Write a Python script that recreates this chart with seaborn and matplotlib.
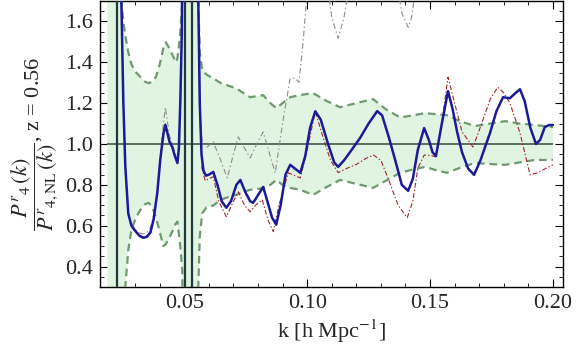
import numpy as np
import pandas as pd
import matplotlib
matplotlib.use("Agg")
import matplotlib.pyplot as plt
import seaborn as sns
from matplotlib.ticker import MultipleLocator, FormatStrFormatter

# error band (upper / lower dashed curves), values above/below the frame mark the poles
band_k = [0.0187, 0.0238, 0.0244, 0.0252, 0.0260, 0.0272, 0.0285, 0.0300, 0.0320, 0.0340,
          0.0355, 0.0370, 0.0385, 0.0400, 0.0415, 0.0425, 0.0443, 0.0465, 0.0472, 0.0482,
          0.0492, 0.0497, 0.0552, 0.0557, 0.0563, 0.0573, 0.0590, 0.0620, 0.0646, 0.0680,
          0.0711, 0.0740, 0.0768, 0.0800, 0.0821, 0.0850, 0.0874, 0.0900, 0.0931, 0.0972,
          0.1024, 0.1080, 0.1134, 0.1200, 0.1268, 0.1320, 0.1378, 0.1430, 0.1480, 0.1530,
          0.1569, 0.1625, 0.1683, 0.1745, 0.1805, 0.1865, 0.1927, 0.2000]
band_upper = [2.5, 2.5, 1.70, 1.60, 1.53, 1.45, 1.39, 1.355, 1.33, 1.305,
              1.298, 1.305, 1.33, 1.39, 1.47, 1.498, 1.46, 1.40, 1.42, 1.52,
              1.70, 2.5, 2.5, 1.70, 1.45, 1.36, 1.34, 1.32, 1.30, 1.285,
              1.273, 1.25, 1.229, 1.235, 1.239, 1.20, 1.176, 1.20, 1.229, 1.24,
              1.249, 1.21, 1.180, 1.20, 1.220, 1.17, 1.13, 1.14, 1.151, 1.145,
              1.141, 1.11, 1.088, 1.10, 1.112, 1.10, 1.093, 1.083]
band_lower = [-0.5, -0.5, 0.10, 0.20, 0.30, 0.48, 0.58, 0.63, 0.675, 0.705,
              0.712, 0.69, 0.64, 0.57, 0.50, 0.51, 0.55, 0.61, 0.62, 0.52,
              0.38, -0.5, -0.5, 0.30, 0.55, 0.66, 0.69, 0.70, 0.727, 0.74,
              0.751, 0.765, 0.776, 0.78, 0.785, 0.80, 0.824, 0.80, 0.785, 0.776,
              0.751, 0.79, 0.824, 0.805, 0.785, 0.82, 0.859, 0.875, 0.888, 0.870,
              0.859, 0.885, 0.907, 0.902, 0.898, 0.91, 0.922, 0.922]

# left branch shared k grid (between the first two poles)
left_k = [0.0240, 0.0244, 0.0252, 0.0260, 0.0272, 0.0285, 0.0300, 0.0318, 0.0333, 0.0347,
          0.0362, 0.0375, 0.0390, 0.0402, 0.0415, 0.0423, 0.0430, 0.0440, 0.0451, 0.0462,
          0.0472, 0.0478, 0.0484, 0.0490, 0.0494]
blue_left = [2.2, 1.70, 1.20, 0.89, 0.66, 0.60, 0.575, 0.55, 0.541, 0.545,
             0.566, 0.63, 0.76, 0.92, 1.05, 1.093, 1.06, 1.01, 0.985, 0.94,
             0.907, 0.98, 1.215, 1.55, 2.2]
red_left = [2.2, 1.70, 1.20, 0.89, 0.66, 0.60, 0.58, 0.555, 0.545, 0.55,
            0.57, 0.63, 0.76, 0.92, 1.06, 1.10, 1.07, 1.01, 0.985, 0.94,
            0.907, 0.98, 1.215, 1.55, 2.2]
gray_left = [2.2, 1.70, 1.20, 0.90, 0.66, 0.61, 0.58, 0.565, 0.56, 0.565,
             0.59, 0.65, 0.77, 0.93, 1.10, 1.18, 1.12, 1.04, 1.00, 0.96,
             0.92, 1.00, 1.23, 1.55, 2.2]

# right branches (after the poles near k = 0.05)
blue_k = [0.0550, 0.0557, 0.0563, 0.0570, 0.0578, 0.0588, 0.0600, 0.0618, 0.0635, 0.0652,
          0.0671, 0.0690, 0.0712, 0.0728, 0.0750, 0.0768, 0.0780, 0.0800, 0.0821, 0.0838,
          0.0857, 0.0874, 0.0892, 0.0912, 0.0931, 0.0950, 0.0972, 0.0992, 0.1012, 0.1033,
          0.1055, 0.1085, 0.1110, 0.1126, 0.1150, 0.1175, 0.1215, 0.1250, 0.1285, 0.1305,
          0.1333, 0.1358, 0.1385, 0.1411, 0.1430, 0.1450, 0.1476, 0.1495, 0.1510, 0.1524,
          0.1548, 0.1573, 0.1592, 0.1610, 0.1630, 0.1655, 0.1679, 0.1705, 0.1744, 0.1770,
          0.1797, 0.1825, 0.1848, 0.1866, 0.1885, 0.1908, 0.1931, 0.1948, 0.1967, 0.1985,
          0.2000]
blue_right = [2.2, 1.70, 1.20, 0.95, 0.87, 0.845, 0.85, 0.863, 0.80, 0.72,
              0.688, 0.72, 0.80, 0.824, 0.76, 0.72, 0.712, 0.75, 0.790, 0.72,
              0.64, 0.605, 0.70, 0.85, 0.898, 0.88, 0.859, 0.94, 1.08, 1.16,
              1.12, 1.00, 0.91, 0.888, 0.92, 0.961, 1.029, 1.10, 1.161, 1.14,
              1.03, 0.922, 0.80, 0.771, 0.83, 0.97, 1.078, 1.02, 0.96, 0.941,
              1.10, 1.259, 1.17, 1.06, 0.96, 0.88, 0.849, 0.92, 1.054, 1.16,
              1.229, 1.224, 1.25, 1.268, 1.21, 1.08, 1.00, 1.02, 1.083, 1.093,
              1.093]

red_k = [0.0550, 0.0557, 0.0563, 0.0572, 0.0585, 0.0600, 0.0618, 0.0640, 0.0671, 0.0700,
         0.0720, 0.0745, 0.0768, 0.0790, 0.0817, 0.0840, 0.0862, 0.0885, 0.0923, 0.0950,
         0.0972, 0.1000, 0.1033, 0.1060, 0.1095, 0.1126, 0.1160, 0.1200, 0.1240, 0.1270,
         0.1300, 0.1330, 0.1370, 0.1407, 0.1430, 0.1450, 0.1476, 0.1500, 0.1524, 0.1550,
         0.1573, 0.1600, 0.1630, 0.1675, 0.1710, 0.1745, 0.1776, 0.1800, 0.1825, 0.1866,
         0.1907, 0.1940, 0.1970, 0.2000]
red_right = [2.2, 1.70, 1.15, 0.88, 0.82, 0.83, 0.84, 0.72, 0.644, 0.72,
             0.766, 0.70, 0.668, 0.70, 0.727, 0.63, 0.571, 0.70, 0.859, 0.845,
             0.834, 0.97, 1.161, 1.05, 0.92, 0.86, 0.88, 0.90, 0.93, 0.946,
             0.92, 0.83, 0.70, 0.639, 0.72, 0.88, 0.946, 0.945, 0.937, 1.12,
             1.327, 1.20, 1.06, 0.985, 1.10, 1.22, 1.278, 1.25, 1.20, 1.054,
             0.849, 0.86, 0.88, 0.898]

gray_k = [0.0550, 0.0557, 0.0565, 0.0573, 0.0593, 0.0618, 0.0645, 0.0675, 0.0700, 0.0720,
          0.0745, 0.0768, 0.0795, 0.0821, 0.0845, 0.0870, 0.0902, 0.0931, 0.0951, 0.0967,
          0.0984, 0.1000, 0.1040, 0.1075, 0.1100, 0.1126, 0.1150, 0.1175, 0.1250, 0.1340,
          0.1370, 0.1386, 0.1411, 0.1425, 0.1440, 0.1500, 0.1700, 0.2000]
gray_right = [2.2, 1.70, 1.15, 1.005, 0.985, 1.01, 0.93, 0.834, 0.95, 1.034,
              0.98, 0.932, 1.00, 1.059, 0.96, 0.859, 1.117, 1.322, 1.322, 1.302,
              1.507, 1.75, 2.2, 1.85, 1.62, 1.517, 1.62, 1.80, 2.3, 1.95,
              1.75, 1.639, 1.571, 1.62, 1.75, 2.3, 2.4, 2.2]

pole_k = [0.0228, 0.0504, 0.0533]

sns.set_style("ticks")
plt.rcParams["font.family"] = "serif"
plt.rcParams["font.serif"] = ["Liberation Serif", "DejaVu Serif"]
plt.rcParams["mathtext.fontset"] = "stix"
plt.rcParams["lines.scale_dashes"] = False

fig = plt.figure(figsize=(5.76, 3.5), dpi=100)
ax = fig.add_axes([100 / 576, 1 - 287 / 350, 463 / 576, 286 / 350])


def curve_frame(k_parts, v_parts):
    rows = []
    for i, (ks, vs) in enumerate(zip(k_parts, v_parts)):
        for kk, vv in zip(ks, vs):
            rows.append({"k": kk, "ratio": vv, "branch": i})
    return pd.DataFrame(rows)


ax.fill_between(band_k, band_lower, band_upper, color="#e1f3e1", linewidth=0)
ax.hlines(1.0, band_k[0], band_k[-1], color="#4f6455", linewidth=1.3, zorder=2)

band = pd.DataFrame({"k": band_k, "upper": band_upper, "lower": band_lower})
for col in ["upper", "lower"]:
    sns.lineplot(data=band, x="k", y=col, ax=ax, color="#6f9a6f", linewidth=1.6,
                 linestyle=(0, (5.5, 3.5)), sort=False, estimator=None, zorder=3)

gray = curve_frame([left_k, gray_k], [gray_left, gray_right])
sns.lineplot(data=gray, x="k", y="ratio", units="branch", estimator=None, sort=False,
             ax=ax, color="#8c8c8c", linewidth=0.8, linestyle=(0, (4, 2, 1, 2)), zorder=4)

red = curve_frame([left_k, red_k], [red_left, red_right])
sns.lineplot(data=red, x="k", y="ratio", units="branch", estimator=None, sort=False,
             ax=ax, color="#a3262a", linewidth=0.8, linestyle=(0, (3.5, 1.5, 1, 1.5)), zorder=5)

blue = curve_frame([left_k, blue_k], [blue_left, blue_right])
sns.lineplot(data=blue, x="k", y="ratio", units="branch", estimator=None, sort=False,
             ax=ax, color="#1b1b9a", linewidth=1.8, zorder=6)

ax.vlines(pole_k, 0.3, 1.7, color="#1e3a3c", linewidth=1.6, zorder=7)

ax.set_xlim(0.0157, 0.2041)
ax.set_ylim(0.3, 1.7)
ax.xaxis.set_major_locator(MultipleLocator(0.05))
ax.xaxis.set_minor_locator(MultipleLocator(0.01))
ax.yaxis.set_major_locator(MultipleLocator(0.2))
ax.yaxis.set_minor_locator(MultipleLocator(0.05))
ax.xaxis.set_major_formatter(FormatStrFormatter("%.2f"))
ax.yaxis.set_major_formatter(FormatStrFormatter("%.1f"))
ax.set_yticks([0.4, 0.6, 0.8, 1.0, 1.2, 1.4, 1.6])
ax.tick_params(which="both", direction="in", top=True, right=True, labelsize=16, color="black")
ax.tick_params(which="major", length=6, width=0.8, pad=5)
ax.tick_params(which="minor", length=3, width=0.6)
for s in ax.spines.values():
    s.set_linewidth(1.0)
    s.set_color("black")

ax.set_xlabel(r"k [h Mpc$^{-1}$]", fontsize=16, labelpad=3)
ax.set_ylabel(r"$\dfrac{P^{r}{}_{4}\,(k)}{P^{r}{}_{4,\mathrm{NL}}\,(k)}$, z = 0.56", fontsize=16, labelpad=3)

fig.savefig("out.png", dpi=100)
